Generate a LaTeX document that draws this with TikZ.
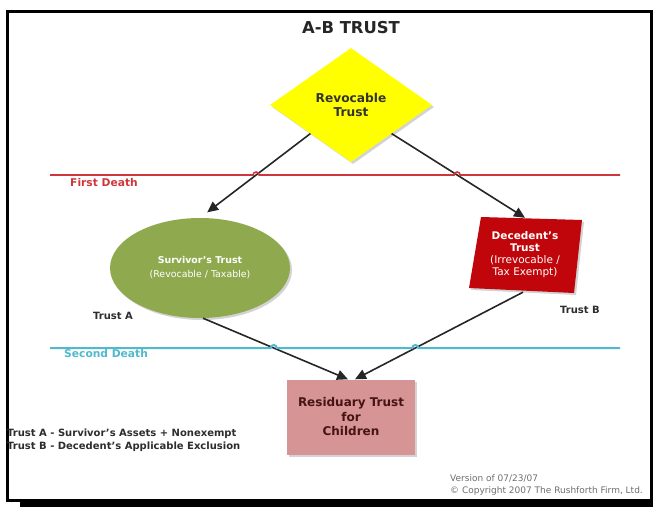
\documentclass[tikz,border=0pt]{standalone}
\usepackage{fontspec}
\setmainfont{DejaVu Sans}
\usepackage{tikz}
\usetikzlibrary{positioning, shadows, shapes.geometric, arrows.meta, intersections}

\definecolor{revYellow}{RGB}{255,255,0}
\definecolor{survGreen}{RGB}{143,170,78}
\definecolor{decRed}{RGB}{192,6,10}
\definecolor{resPink}{RGB}{214,148,148}
\definecolor{resText}{RGB}{70,20,20}
\definecolor{firstRed}{RGB}{205,55,60}
\definecolor{secondCyan}{RGB}{80,185,205}
\definecolor{noteGray}{RGB}{45,45,45}
\definecolor{versionGray}{RGB}{110,110,110}

\tikzset{
  boxshadow/.style={drop shadow={shadow xshift=2pt, shadow yshift=-2pt, opacity=0.35}},
  revbox/.style={diamond, aspect=1.42, minimum width=162pt, minimum height=114pt, inner sep=0pt,
    fill=revYellow, boxshadow, align=center, font=\bfseries\fontsize{12.2}{14.5}\selectfont, text=black!80},
  survbox/.style={ellipse, minimum width=180pt, minimum height=100pt, inner sep=0pt,
    fill=survGreen, boxshadow, align=center, text=white, font=\fontsize{9.4}{14}\selectfont},
  decbox/.style={rectangle, minimum width=100pt, minimum height=74pt, inner sep=0pt,
    align=center, text=white, font=\fontsize{10.5}{12}\selectfont},
  resbox/.style={rectangle, minimum width=128pt, minimum height=75pt, inner sep=0pt,
    fill=resPink, boxshadow, align=center, text=resText, font=\bfseries\fontsize{12}{14.5}\selectfont},
  conn/.style={draw=black!85, line width=1.6pt, -{Triangle[length=11pt, width=10pt]}},
  firstline/.style={draw=firstRed, line width=1.6pt},
  secondline/.style={draw=secondCyan, line width=2pt},
  trustlabel/.style={anchor=west, inner sep=0pt, text=noteGray, font=\bfseries\fontsize{10}{13}\selectfont},
  deathlabel/.style={anchor=west, inner sep=0pt, font=\bfseries\fontsize{10.7}{12}\selectfont}
}

\begin{document}
\begin{tikzpicture}[x=1pt,y=-1pt]
\useasboundingbox (0,0) rectangle (653,508);
% frame
\draw[line width=3pt] (7.5,11.5) rectangle (651,500);
\fill (20,500) rectangle (653,507);

% title
\node[font=\bfseries\fontsize{16.4}{18}\selectfont, text=black!85] (title) at (351,28) {A-B TRUST};

% trusts
\node[revbox] (rev) at (351,105) {Revocable\\Trust};
\node[survbox] (surv) at (200,268) {\textbf{Survivor's Trust}\\(Revocable / Taxable)};
\fill[decRed, boxshadow] (481,217) -- (582,220) -- (574,293) -- (469,288) -- cycle;
\node[decbox] (dec) at (525,255) {\textbf{Decedent's}\\\textbf{Trust}\\(Irrevocable /\\Tax Exempt)};
\node[resbox] (res) at (351,417) {Residuary Trust\\for\\Children};

% connectors
\draw[conn, name path=leftdown, shorten >=9pt] (rev.south west) -- (surv.north);
\draw[conn, name path=rightdown] (rev.south east) -- (dec.north);
\draw[conn, name path=leftres] ([xshift=3pt]surv.south) -- ([xshift=-3pt]res.north);
\draw[conn, name path=rightres] ([xshift=-2pt]dec.south) -- ([xshift=4pt]res.north);

% death lines with hops
\path[name path=firstpath] (50,175) -- (620,175);
\path[name path=secondpath] (50,348) -- (620,348);
\path[name intersections={of=firstpath and leftdown, by=hopA}];
\path[name intersections={of=firstpath and rightdown, by=hopB}];
\path[name intersections={of=secondpath and leftres, by=hopC}];
\path[name intersections={of=secondpath and rightres, by=hopD}];
\draw[firstline] (50,175) -- ([xshift=-3pt]hopA) arc[start angle=180, end angle=0, radius=3pt]
  -- ([xshift=-3pt]hopB) arc[start angle=180, end angle=0, radius=3pt] -- (620,175);
\draw[secondline] (50,348) -- ([xshift=-3pt]hopC) arc[start angle=180, end angle=0, radius=3pt]
  -- ([xshift=-3pt]hopD) arc[start angle=180, end angle=0, radius=3pt] -- (620,348);

\node[deathlabel, text=firstRed] (firstdeath) at (70,183) {First Death};
\node[deathlabel, text=secondCyan] (seconddeath) at (64,354) {Second Death};

% labels
\node[trustlabel] (trusta) at (93,316) {Trust A};
\node[trustlabel] (trustb) at (560,310) {Trust B};
\node[trustlabel, anchor=north west, align=left] (legend) at (7,429)
  {Trust A - Survivor's Assets + Nonexempt\\Trust B - Decedent's Applicable Exclusion};
\node[anchor=north west, inner sep=0pt, align=left, text=versionGray, font=\fontsize{9}{12}\selectfont]
  (version) at (450,474) {Version of 07/23/07\\\textcopyright{} Copyright 2007 The Rushforth Firm, Ltd.};
\end{tikzpicture}
\end{document}
